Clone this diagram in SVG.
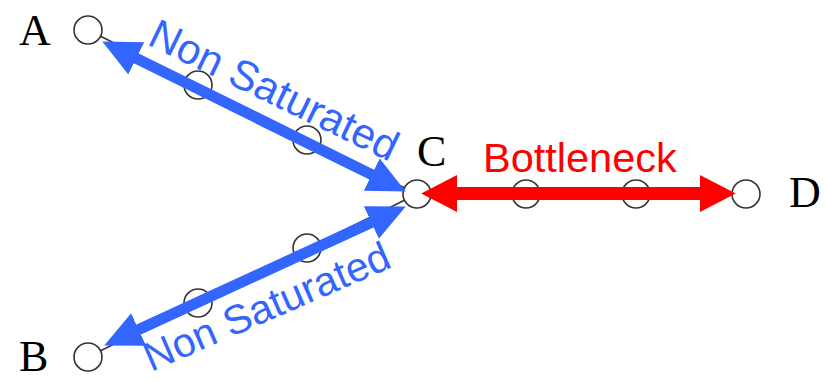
<svg xmlns="http://www.w3.org/2000/svg" width="825" height="381" viewBox="0 0 825 381">
  <style>
    .link { stroke: #333; stroke-width: 1.5; fill: none; }
    .node circle { fill: #fff; stroke: #333; stroke-width: 1.6; }
    .name { font-family: "Liberation Serif", "Times New Roman", serif; font-size: 44px; fill: #000; }
    .tag { font-family: "Liberation Sans", Arial, Helvetica, sans-serif; font-size: 42px; }
    .blue { fill: #3366ff; }
    .red { fill: #ff0000; }
  </style>
  <defs>
    <marker id="headBlue" markerUnits="userSpaceOnUse" markerWidth="40" markerHeight="40" viewBox="0 -18 38 36" refX="1" refY="0" orient="auto-start-reverse">
      <path d="M0,-17 L36,0 L0,17 z" fill="#3366ff"/>
    </marker>
    <marker id="headRed" markerUnits="userSpaceOnUse" markerWidth="40" markerHeight="40" viewBox="0 -18 38 36" refX="1" refY="0" orient="auto-start-reverse">
      <path d="M0,-17.5 L34,0 L0,17.5 z" fill="#ff0000"/>
    </marker>
  </defs>

  <!-- underlying network links -->
  <g id="links">
    <line class="link" x1="88" y1="30" x2="417" y2="194"/>
    <line class="link" x1="88" y1="357" x2="417" y2="194"/>
    <line class="link" x1="417" y1="194" x2="746" y2="194"/>
  </g>

  <!-- routers -->
  <g id="node-A" class="node"><circle cx="88" cy="30" r="14"/><text class="name" x="19" y="45">A</text></g>
  <g id="node-B" class="node"><circle cx="88" cy="357" r="14"/><text class="name" x="19" y="371">B</text></g>
  <g id="node-C" class="node"><circle cx="417" cy="194" r="14"/><text class="name" x="417" y="166">C</text></g>
  <g id="node-D" class="node"><circle cx="746" cy="194" r="14"/><text class="name" x="789" y="207">D</text></g>
  <g id="node-AC1" class="node"><circle cx="198" cy="85" r="14"/></g>
  <g id="node-AC2" class="node"><circle cx="307" cy="140" r="14"/></g>
  <g id="node-BC1" class="node"><circle cx="198" cy="303" r="14"/></g>
  <g id="node-BC2" class="node"><circle cx="307" cy="248" r="14"/></g>
  <g id="node-CD1" class="node"><circle cx="526" cy="194" r="14"/></g>
  <g id="node-CD2" class="node"><circle cx="636" cy="194" r="14"/></g>

  <!-- flow arrows -->
  <g id="connectors">
    <line x1="135.3" y1="57.9" x2="372.7" y2="175.1" stroke="#3366ff" stroke-width="11" marker-start="url(#headBlue)" marker-end="url(#headBlue)"/>
    <line x1="137.7" y1="330" x2="372.3" y2="222" stroke="#3366ff" stroke-width="11" marker-start="url(#headBlue)" marker-end="url(#headBlue)"/>
    <line x1="456" y1="193.5" x2="701" y2="193.5" stroke="#ff0000" stroke-width="13" marker-start="url(#headRed)" marker-end="url(#headRed)"/>
  </g>

  <!-- link labels -->
  <g id="labels">
    <text class="tag blue" transform="translate(146,44) rotate(25.8)">Non Saturated</text>
    <text class="tag blue" transform="translate(151,372) rotate(-23.5)" style="font-size:41px">Non Saturated</text>
    <text class="tag red" x="483" y="172" style="font-size:41.5px">Bottleneck</text>
  </g>
</svg>
